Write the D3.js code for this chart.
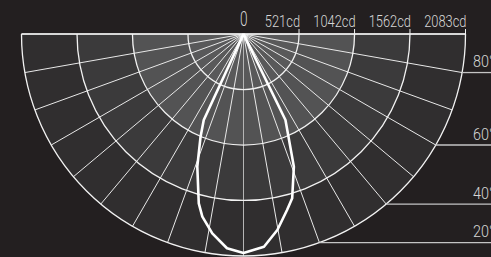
<!DOCTYPE html>
<html><head><meta charset="utf-8">
<script src="https://cdn.jsdelivr.net/npm/d3@7"></script>
<style>
html,body{margin:0;padding:0;background:#231f20;overflow:hidden}
svg{display:block}
text{font-family:"Roboto","DejaVu Sans Condensed",sans-serif;font-weight:300;fill:#d6d6d6}
</style></head>
<body>
<svg id="c" width="491" height="257"></svg>
<script>
// ---- data ----
const ringValues = [521, 1042, 1562, 2083];
const ringLabels = ["521cd", "1042cd", "1562cd", "2083cd"];
const ringFills = ["#59595a", "#535354", "#3b3a3b", "#302e2f"];
const spokeAngles = d3.range(-90, 91, 10);
const angleMarks = [80, 60, 40, 20];
const angleLabels = ["80°", "60°", "40°", "20°"];
// beam curve: signed angle from nadir (deg, negative = left) and intensity (cd)
const curveAngles = [-27, -24.8, -22.7, -19.2, -14.8, -12.7, -8.9, -4.4, 0, 5.5, 9.8, 13.9, 16.5, 20.8, 26, 28];
const curveValues = [0, 889, 1044, 1318, 1643, 1757, 1893, 2016, 2055, 2005, 1866, 1701, 1608, 1331, 898, 0];

// ---- layout ----
const W = 491, H = 257, cx = 243.5, cy = 34, R = 222;
const svg = d3.select("#c");
const r = d3.scaleLinear().domain([0, 2083]).range([0, R]);
const rad = d => d * Math.PI / 180;
const g = svg.append("g").attr("transform", `translate(${cx},${cy})`);

// ring fills
const arc = d3.arc().startAngle(Math.PI / 2).endAngle(3 * Math.PI / 2);
ringValues.forEach((v, i) => {
  g.append("path")
    .attr("d", arc({innerRadius: i === 0 ? 0 : r(ringValues[i - 1]), outerRadius: r(v)}))
    .attr("fill", ringFills[i]);
});

// spokes
g.selectAll("line.spoke").data(spokeAngles).join("line")
  .attr("x1", 0).attr("y1", 0)
  .attr("x2", d => r(2083) * Math.sin(rad(d)))
  .attr("y2", d => r(2083) * Math.cos(rad(d)))
  .attr("stroke", d => d === 0 ? "#b5b5b5" : "#e8e8e8")
  .attr("stroke-width", 1);

// ring circles
ringValues.forEach(v => {
  g.append("path")
    .attr("d", arc({innerRadius: r(v), outerRadius: r(v)}))
    .attr("fill", "none").attr("stroke", "#f2f2f2").attr("stroke-width", 1.3);
});
g.append("line").attr("x1", -r(2083)).attr("x2", r(2083)).attr("y1", 0).attr("y2", 0)
  .attr("stroke", "#f2f2f2").attr("stroke-width", 1.3);

// narrow text helper
function label(x, y, txt, size, anchor, sx) {
  g.append("g").attr("transform", `translate(${x},${y}) scale(${sx},1)`)
    .append("text").attr("text-anchor", anchor).attr("font-size", size).text(txt);
}

// top ticks and labels
ringValues.forEach((v, i) => {
  g.append("line").attr("x1", r(v)).attr("x2", r(v)).attr("y1", -5).attr("y2", 0)
    .attr("stroke", "#f2f2f2").attr("stroke-width", 1);
  label(r(v) + 1, -7, ringLabels[i], 16.5, "end", 0.78);
});
label(0.3, -8, "0", 19.5, "middle", 0.7);

// angle marks on the right
angleMarks.forEach((a, i) => {
  const x0 = r(2083) * Math.sin(rad(a)), y0 = r(2083) * Math.cos(rad(a));
  g.append("line").attr("x1", x0).attr("x2", W - cx).attr("y1", y0).attr("y2", y0)
    .attr("stroke", "#c4c4c4").attr("stroke-width", 1.3);
  label(473 - cx, y0 - 5.5, angleLabels[i], 16, "start", 0.9);
});

// beam curve
const pts = curveAngles.map((a, i) => ({a, v: curveValues[i]}));
const line = d3.lineRadial().angle(d => Math.PI - rad(d.a)).radius(d => r(d.v));
g.append("path").attr("d", line(pts)).attr("fill", "none")
  .attr("stroke", "#ffffff").attr("stroke-width", 2.6).attr("stroke-linejoin", "round");
</script>
</body></html>
